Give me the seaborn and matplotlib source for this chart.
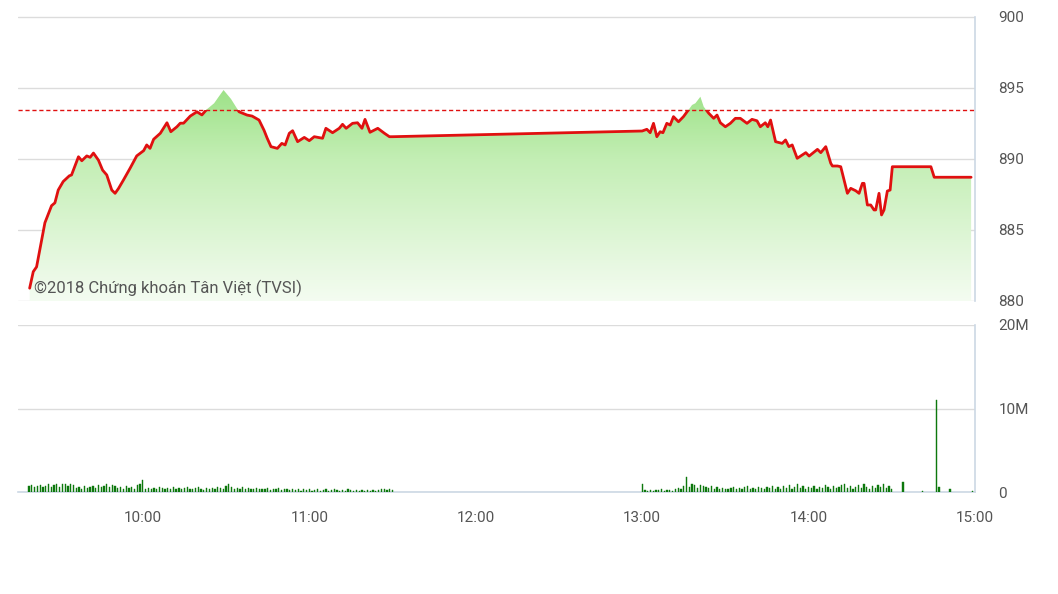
import numpy as np
import pandas as pd
import matplotlib.pyplot as plt
import seaborn as sns
from matplotlib.colors import LinearSegmentedColormap
from matplotlib.patches import Polygon, Rectangle

# --- index price, time given as minutes after 9:00 ---
price_min = [19.2, 20.5, 21.7, 24.7, 27.1, 28.3, 29.5, 31.3, 33.5, 34.3, 36.8, 38.0,
             39.8, 41.0, 42.2, 44.0, 45.5, 47.0, 48.8, 50.0, 51.2, 53.0, 55.4, 57.8,
             60.3, 61.4, 62.6, 63.9, 66.3, 68.7, 70.1, 72.3, 73.5, 74.7, 77.1, 79.5,
             81.3, 83.1, 85.7, 87.5, 89.1, 91.8, 94.7, 97.6, 99.4, 101.9, 103.7, 104.8,
             106.2, 108.5, 110.1, 111.3, 112.8, 114.0, 115.8, 118.2, 120.0, 121.8, 124.8,
             126.0, 128.4, 130.8, 132.0, 133.3, 135.6, 137.4, 139.0, 140.1, 141.9, 144.7,
             147.1, 148.9, 150.0,
             240.0, 241.7, 242.9, 244.1, 245.3, 246.5, 247.5, 248.9, 250.1, 251.3, 253.1,
             254.9, 256.7, 258.0, 259.2, 261.0, 262.2, 264.0, 265.8, 267.0, 268.2, 270.0,
             271.8, 273.6, 275.4, 277.8, 279.6, 281.4, 282.6, 284.4, 285.3, 286.3, 288.1,
             290.5, 291.7, 292.9, 294.1, 295.9, 299.0, 300.2, 303.2, 304.4, 306.2, 308.0,
             308.6, 310.4, 311.6, 314.0, 315.2, 317.0, 318.2, 319.4, 320.0, 321.2, 322.4,
             323.6, 324.2, 325.4, 326.3, 327.2, 328.4, 329.4, 330.2, 344.1, 345.3, 358.6]
price_val = [880.9, 882.06, 882.4, 885.5, 886.7, 886.9, 887.8, 888.4, 888.8, 888.86, 890.14, 889.86,
             890.2, 890.1, 890.4, 889.9, 889.2, 888.86, 887.8, 887.57, 887.9, 888.5, 889.33, 890.2,
             890.57, 890.97, 890.73, 891.37, 891.79, 892.53, 891.9, 892.25, 892.5, 892.5, 893.0, 893.3,
             893.08, 893.48, 893.9, 894.4, 894.83, 894.2, 893.3, 893.07, 893.0, 892.72, 892.0, 891.46,
             890.85, 890.73, 891.08, 890.97, 891.79, 891.97, 891.2, 891.5, 891.27, 891.55, 891.44,
             892.14, 891.83, 892.14, 892.42, 892.14, 892.49, 892.53, 892.14, 892.77, 891.86, 892.14,
             891.79, 891.55, 891.55,
             891.95, 892.07, 891.83, 892.49, 891.55, 891.9, 891.83, 892.49, 892.37, 892.96, 892.6,
             892.96, 893.43, 893.78, 893.9, 894.36, 893.66, 893.2, 892.84, 893.07, 892.53, 892.25,
             892.49, 892.84, 892.84, 892.49, 892.77, 892.67, 892.25, 892.53, 892.25, 892.72, 891.2,
             891.08, 891.32, 890.85, 890.97, 890.03, 890.43, 890.19, 890.66, 890.43, 890.85, 889.68,
             889.49, 889.49, 889.44, 887.57, 887.92, 887.75, 887.57, 888.27, 888.27, 886.75, 886.75,
             886.4, 886.4, 887.57, 886.05, 886.4, 887.73, 887.8, 889.44, 889.44, 888.7, 888.7]
ref_level = 893.4

# --- volume (millions), one bar per minute ---
vol_am_start = 19   # 9:19
vol_am = [0.7, 0.8, 0.6, 0.7, 0.8, 0.6, 0.7, 0.9, 0.6, 0.8, 0.9,
          0.6, 0.9, 1.0, 0.7, 0.9, 0.8, 0.5, 0.6, 0.4, 0.7,
          0.5, 0.6, 0.7, 0.5, 0.8, 0.6, 0.7, 0.9, 0.6, 0.8,
          0.7, 0.5, 0.6, 0.4, 0.7, 0.5, 0.6, 0.3, 0.8, 1.0,
          1.4,
          0.4, 0.5, 0.3, 0.5, 0.4, 0.6, 0.5, 0.3, 0.5, 0.4,
          0.6, 0.4, 0.5, 0.3, 0.5, 0.6, 0.4, 0.3, 0.5, 0.6,
          0.4, 0.2, 0.5, 0.4, 0.5, 0.3, 0.6, 0.5, 0.4, 0.7,
          1.0, 0.6, 0.4, 0.5, 0.3, 0.6, 0.4, 0.5, 0.3, 0.4,
          0.5, 0.3, 0.4, 0.3, 0.5, 0.2, 0.4, 0.3, 0.5, 0.2,
          0.3, 0.4, 0.2, 0.3, 0.2, 0.4, 0.1, 0.3, 0.2, 0.3,
          0.1, 0.2, 0.3, 0.1, 0.2, 0.3, 0.1, 0.2, 0.3, 0.2,
          0.1, 0.2, 0.1, 0.3, 0.2, 0.1, 0.2, 0.1, 0.2, 0.1,
          0.2, 0.1, 0.2, 0.1, 0.2, 0.3, 0.3, 0.2, 0.3, 0.2]
vol_pm_start = 240  # 13:00
vol_pm = [1.0, 0.2, 0.1, 0.2, 0.1, 0.2, 0.2, 0.3, 0.1, 0.2,
          0.2, 0.1, 0.3, 0.5, 0.4, 0.7, 1.8, 0.6, 0.9, 0.8,
          0.5, 0.8, 0.7, 0.6, 0.5, 0.7, 0.4, 0.6, 0.3, 0.5,
          0.4, 0.3, 0.5, 0.6, 0.3, 0.5, 0.4, 0.6, 0.7, 0.4,
          0.5, 0.3, 0.6, 0.5, 0.4, 0.6, 0.5, 0.7, 0.3, 0.6,
          0.4, 0.7, 0.5, 0.8, 0.3, 0.6, 0.9, 0.5, 0.7, 0.4,
          0.6, 0.5, 0.7, 0.4, 0.6, 0.5, 0.8, 0.6, 0.4, 0.7,
          0.5, 0.6, 0.8, 0.9, 0.5, 0.7, 0.4, 0.6, 0.8, 0.5,
          0.9, 0.6, 0.4, 0.7, 0.5, 0.8, 0.6, 0.9, 0.5, 0.7,
          0.3]
vol_late_min = [334, 341, 346, 347, 351, 359]
vol_late = [1.2, 0.1, 11.0, 0.6, 0.3, 0.1]

hour_ticks = [60, 120, 180, 240, 300, 360]
hour_labels = ["10:00", "11:00", "12:00", "13:00", "14:00", "15:00"]

sns.set_style("white")
plt.rcParams['font.family'] = ['Roboto', 'DejaVu Sans']

W, H = 1058, 594
fig = plt.figure(figsize=(W / 100, H / 100), dpi=100)
ax = fig.add_axes([18 / W, 1 - 301 / H, (975 - 18) / W, (301 - 16.5) / H])
axv = fig.add_axes([18 / W, 1 - 492 / H, (975 - 18) / W, (492 - 325) / H])

xmin, xmax = 15, 360
ymin, ymax = 880, 900

df = pd.DataFrame({"t": price_min, "p": price_val})

# gradient fill under the price line
grad = LinearSegmentedColormap.from_list("g", ["#f4fcf1", "#c3eeb4", "#76d65a"])
img = ax.imshow(np.linspace(0, 1, 256).reshape(-1, 1), cmap=grad, aspect="auto",
                origin="lower", extent=[xmin, xmax, ymin, ymax], zorder=1)
verts = [(df.t.iloc[0], ymin)] + list(zip(df.t, df.p)) + [(df.t.iloc[-1], ymin)]
poly = Polygon(verts, closed=True, facecolor="none", edgecolor="none")
ax.add_patch(poly)
img.set_clip_path(poly)

# red line only shown below the reference level
sns.lineplot(data=df, x="t", y="p", ax=ax, color="#e01010", lw=2.0, zorder=4, sort=False)
below = Rectangle((xmin, ymin), xmax - xmin, ref_level - ymin, transform=ax.transData,
                  facecolor="none", edgecolor="none")
ax.add_patch(below)
ax.lines[-1].set_clip_path(below)
ax.axhline(ref_level, color="#e01010", lw=1.0, ls=(0, (3, 2)), zorder=3)

ax.text(20.6, 880.9, "©2018 Chứng khoán Tân Việt (TVSI)", fontsize=12, color="#555555",
        va="center", ha="left", zorder=5)

ax.set_xlim(xmin, xmax)
ax.set_ylim(ymin, ymax)
ax.set_yticks([880, 885, 890, 895, 900])
ax.set_xticks([])
ax.set_xlabel("")
ax.set_ylabel("")

# volume bars
vt = [vol_am_start + i for i in range(len(vol_am))] + \
     [vol_pm_start + i for i in range(len(vol_pm))] + vol_late_min
vv = vol_am + vol_pm + vol_late
axv.bar(vt, vv, width=0.45, color="#0d780d", edgecolor="#0d780d", linewidth=0.3, zorder=3)
axv.set_xlim(xmin, xmax)
axv.set_ylim(0, 20)
axv.set_yticks([0, 10, 20])
axv.set_yticklabels(["0", "10M", "20M"])
axv.set_xticks(hour_ticks)
axv.set_xticklabels(hour_labels)

for a in (ax, axv):
    a.yaxis.tick_right()
    a.grid(axis="y", color="#dcdcdc", lw=1)
    a.set_axisbelow(True)
    for s in ("left", "top"):
        a.spines[s].set_visible(False)
    a.spines["right"].set_color("#ccd8e4")
    a.spines["right"].set_linewidth(1.2)
    a.tick_params(axis="y", length=0, pad=17, labelsize=11, labelcolor="#555555")

ax.spines["bottom"].set_visible(False)
axv.spines["bottom"].set_color("#ccd8e4")
axv.spines["bottom"].set_linewidth(1.2)
axv.tick_params(axis="x", length=8, width=1.2, color="#ccd8e4", pad=6,
                labelsize=11, labelcolor="#555555")

fig.savefig("out.png", dpi=100, facecolor="white")
